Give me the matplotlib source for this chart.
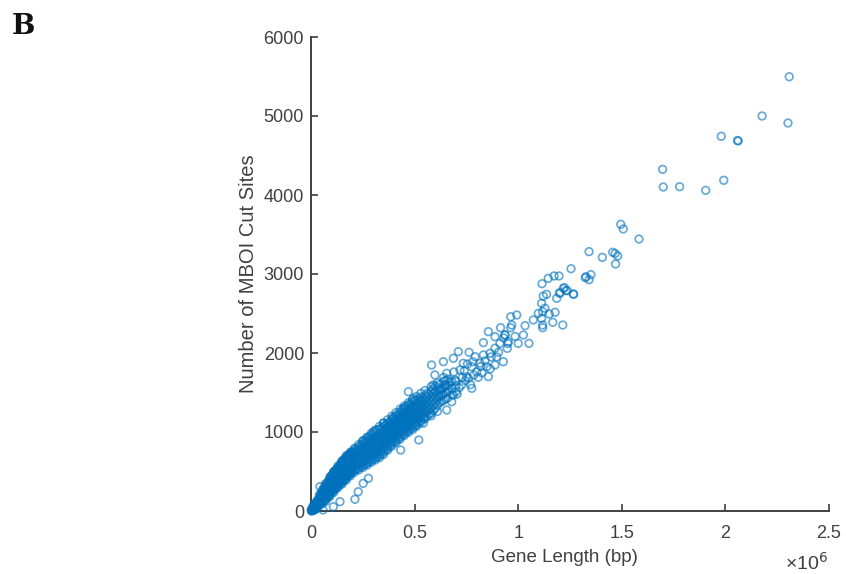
import numpy as np
import matplotlib
matplotlib.use('Agg')
import matplotlib.pyplot as plt

# sparse points, length in units of 1e6 bp
top_x = [2.308, 2.302, 2.177, 1.980, 2.062, 2.058, 1.992, 1.905, 1.779, 1.700, 1.697, 1.583,
         1.495, 1.507, 1.342, 1.406, 1.456, 1.468, 1.480, 1.470, 1.255, 1.351, 1.324, 1.342,
         1.197, 1.173, 1.145, 1.115, 1.223, 1.237, 1.199, 1.268, 1.137, 1.121, 1.186, 1.327]
top_y = [5497, 4911, 5000, 4743, 4684, 4690, 4186, 4059, 4105, 4101, 4325, 3443,
         3629, 3570, 3283, 3211, 3275, 3260, 3228, 3127, 3067, 2992, 2953, 2928,
         2975, 2975, 2945, 2877, 2827, 2790, 2763, 2743, 2743, 2720, 2692, 2966]

mid_x = [1.218, 1.230, 1.266, 1.202, 1.113, 1.129, 1.118, 1.178, 1.150, 1.097, 1.073, 1.113,
         1.167, 1.118, 1.118, 1.215, 0.993, 0.964, 0.969, 0.964, 1.033, 1.025, 0.936, 1.000,
         1.052, 0.952, 0.915, 0.930, 0.856, 0.936, 0.888, 0.832, 0.912, 0.947, 0.888, 0.864,
         0.928, 0.711, 0.763, 0.687, 0.639, 0.582, 0.598, 0.655, 0.735, 0.792, 0.832, 0.896,
         0.816, 0.776, 0.848, 0.807, 0.856, 0.888, 0.776, 0.687, 0.679, 0.751, 0.719, 0.695,
         0.647, 0.727, 0.590, 0.623, 0.663, 0.520, 0.433, 0.470, 0.494, 0.446, 0.397, 0.349,
         0.301, 0.655, 0.542, 0.043, 0.212, 0.228, 0.252, 0.277, 0.140, 0.108, 0.058,
         0.700, 0.715, 0.740, 0.760, 0.780, 0.800, 0.820, 0.840, 0.870, 0.905, 0.950, 0.985,
         0.705, 0.745, 0.770, 0.825, 0.865, 0.690, 0.730, 0.755, 0.785, 0.615, 0.640, 0.670]
mid_y = [2819, 2790, 2747, 2755, 2629, 2566, 2523, 2515, 2494, 2502, 2418, 2439,
         2389, 2354, 2320, 2354, 2481, 2459, 2354, 2320, 2346, 2228, 2228, 2122,
         2122, 2143, 2320, 2190, 2270, 2228, 2206, 2131, 2122, 2059, 2060, 1996,
         1890, 2017, 2008, 1933, 1890, 1848, 1722, 1743, 1870, 1953, 1975, 1950,
         1870, 1827, 1827, 1692, 1700, 1848, 1553, 1468, 1383, 1700, 1785, 1658,
         1595, 1595, 1595, 1532, 1532, 899, 772, 1510, 1427, 1300, 1173, 1110,
         1004, 1278, 1110, 308, 148, 244, 350, 414, 118, 54, 13,
         1640, 1560, 1770, 1680, 1890, 1760, 1830, 1900, 1950, 2010, 2120, 2210,
         1480, 1650, 1600, 1750, 1800, 1760, 1690, 1860, 1720, 1450, 1690, 1630]

# dense band, one list of cut site counts per gene length
band_x = [0.003, 0.008, 0.012, 0.018, 0.025, 0.032, 0.04, 0.05, 0.06, 0.07, 0.08, 0.09,
          0.10, 0.11, 0.12, 0.13, 0.14, 0.15, 0.16, 0.17, 0.18, 0.19, 0.20, 0.22, 0.24,
          0.26, 0.28, 0.30, 0.32, 0.34, 0.36, 0.38, 0.40, 0.42, 0.44, 0.46, 0.48, 0.50,
          0.52, 0.54, 0.56, 0.58, 0.60, 0.62, 0.64, 0.66]
band_y = [[5, 20], [10, 30], [15, 45, 70], [25, 60, 90], [35, 70, 110], [55, 95, 140],
          [70, 115, 160, 195], [110, 150, 190, 230], [125, 165, 205, 250, 285],
          [150, 190, 235, 280, 320], [175, 220, 265, 310, 365], [205, 250, 295, 340, 395],
          [240, 285, 330, 375, 420, 450], [265, 310, 355, 400, 445, 490],
          [290, 335, 380, 425, 470, 520], [320, 365, 410, 455, 500, 550],
          [345, 390, 435, 480, 525, 575], [365, 410, 455, 500, 545, 590, 620],
          [395, 440, 485, 530, 575, 620, 650], [420, 465, 510, 555, 600, 645, 680],
          [450, 495, 540, 585, 630, 675, 705], [470, 515, 560, 605, 650, 695, 725],
          [500, 545, 590, 635, 680, 725, 750], [530, 575, 620, 665, 710, 755, 790],
          [560, 605, 650, 695, 740, 785, 830], [590, 635, 680, 725, 770, 815, 860, 895],
          [620, 665, 710, 755, 800, 845, 890, 935], [655, 700, 745, 790, 835, 880, 925, 975],
          [685, 730, 775, 820, 865, 910, 955, 1025], [720, 765, 810, 855, 900, 945, 990, 1050],
          [770, 815, 860, 905, 950, 995, 1040, 1090], [820, 865, 910, 955, 1000, 1045, 1090, 1130],
          [870, 915, 960, 1005, 1050, 1095, 1140, 1185], [910, 955, 1000, 1045, 1090, 1135, 1180, 1225],
          [960, 1005, 1050, 1095, 1140, 1185, 1230, 1275], [1000, 1045, 1090, 1135, 1180, 1225, 1270, 1320],
          [1040, 1085, 1130, 1175, 1220, 1265, 1310, 1360], [1070, 1115, 1160, 1205, 1250, 1295, 1340, 1400],
          [1120, 1170, 1220, 1270, 1320, 1370, 1420], [1170, 1220, 1270, 1320, 1370, 1420],
          [1200, 1260, 1320, 1380, 1440, 1490], [1240, 1310, 1380, 1450, 1520],
          [1300, 1370, 1440, 1510, 1580], [1370, 1450, 1530, 1600], [1400, 1480, 1560, 1640],
          [1430, 1510, 1590, 1670]]

# genes falling between the rows above
fill_x = [0.002, 0.006, 0.015, 0.022, 0.03, 0.045, 0.055, 0.065, 0.075, 0.085, 0.095,
          0.105, 0.115, 0.125, 0.135, 0.145, 0.155, 0.165, 0.175, 0.185, 0.195,
          0.21, 0.23, 0.25, 0.27, 0.29, 0.31, 0.33, 0.35, 0.37, 0.39, 0.41, 0.43, 0.45,
          0.47, 0.49, 0.51, 0.53, 0.55, 0.57, 0.59, 0.61, 0.63, 0.65, 0.68, 0.70]
fill_y = [[0, 10], [5, 40], [10, 35, 80], [20, 50, 95], [40, 80, 125], [85, 130, 175, 215],
          [95, 135, 180, 220, 265], [135, 175, 220, 260, 300], [160, 205, 250, 295, 340],
          [190, 235, 280, 325, 375], [220, 265, 310, 355, 405, 435],
          [250, 295, 340, 385, 430, 470], [275, 320, 365, 410, 455, 505],
          [305, 350, 395, 440, 485, 530], [330, 375, 420, 465, 510, 560],
          [355, 400, 445, 490, 535, 580, 610], [380, 425, 470, 515, 560, 605, 640],
          [405, 450, 495, 540, 585, 630, 665], [435, 480, 525, 570, 615, 660, 695],
          [460, 505, 550, 595, 640, 685, 715], [485, 530, 575, 620, 665, 710, 740],
          [515, 560, 605, 650, 695, 740, 775], [545, 590, 635, 680, 725, 770, 810],
          [575, 620, 665, 710, 755, 800, 845, 880], [605, 650, 695, 740, 785, 830, 875, 920],
          [640, 685, 730, 775, 820, 865, 910, 955], [670, 715, 760, 805, 850, 895, 940, 1000],
          [700, 745, 790, 835, 880, 925, 970, 1035], [745, 790, 835, 880, 925, 970, 1015, 1070],
          [795, 840, 885, 930, 975, 1020, 1065, 1110], [845, 890, 935, 980, 1025, 1070, 1115, 1160],
          [890, 935, 980, 1025, 1070, 1115, 1160, 1205], [935, 980, 1025, 1070, 1115, 1160, 1205, 1250],
          [980, 1025, 1070, 1115, 1160, 1205, 1250, 1295], [1020, 1065, 1110, 1155, 1200, 1245, 1290, 1340],
          [1055, 1100, 1145, 1190, 1235, 1280, 1325, 1380], [1095, 1145, 1195, 1245, 1295, 1345, 1395],
          [1145, 1195, 1245, 1295, 1345, 1395, 1440], [1185, 1240, 1295, 1350, 1405, 1460],
          [1220, 1285, 1350, 1415, 1480], [1270, 1340, 1410, 1480, 1545], [1335, 1410, 1485, 1560],
          [1385, 1465, 1545], [1420, 1500, 1580, 1650], [1470, 1550, 1640], [1510, 1590]]

# upper and lower rim of the band
rim_x = [0.07, 0.09, 0.11, 0.13, 0.15, 0.17, 0.19, 0.21, 0.23, 0.25, 0.27, 0.29, 0.31, 0.33,
         0.35, 0.37, 0.39, 0.41, 0.43, 0.45, 0.47, 0.49, 0.51, 0.53, 0.55, 0.58, 0.61]
rim_up = [345, 425, 500, 570, 635, 700, 745, 795, 840, 890, 935, 980, 1025, 1070,
          1115, 1155, 1200, 1245, 1290, 1330, 1370, 1410, 1450, 1490, 1525, 1575, 1620]
rim_low = [120, 180, 235, 295, 340, 390, 445, 490, 520, 550, 580, 615, 645, 675,
           715, 770, 820, 865, 910, 955, 995, 1030, 1075, 1120, 1165, 1205, 1260]

x_ticks = [0, 0.5, 1, 1.5, 2, 2.5]
x_labels = ['0', '0.5', '1', '1.5', '2', '2.5']
y_ticks = [0, 1000, 2000, 3000, 4000, 5000, 6000]

plt.rcParams['font.family'] = ['Liberation Sans', 'DejaVu Sans']
grey = '#404040'

fig = plt.figure(figsize=(8.46, 5.74), dpi=100)
ax = fig.add_axes([311 / 846, 1 - 511 / 574, 518 / 846, 474 / 574])

xs = list(top_x) + list(mid_x) + list(rim_x) + list(rim_x)
ys = list(top_y) + list(mid_y) + list(rim_up) + list(rim_low)
for rx, ry in [(band_x, band_y), (fill_x, fill_y)]:
    xs += list(np.repeat(rx, [len(r) for r in ry]))
    ys += [v for r in ry for v in r]
ax.scatter(xs, ys, s=30, facecolors='none', edgecolors='#0072BD', linewidths=1.25,
           alpha=0.6, clip_on=False, zorder=3)

ax.set_xlim(0, 2.5)
ax.set_ylim(0, 6000)
ax.set_xticks(x_ticks)
ax.set_xticklabels(x_labels)
ax.set_yticks(y_ticks)
ax.spines['top'].set_visible(False)
ax.spines['right'].set_visible(False)
for s in ['left', 'bottom']:
    ax.spines[s].set_linewidth(1.4)
    ax.spines[s].set_color(grey)
ax.tick_params(direction='in', length=5, width=1.2, color=grey, labelcolor=grey,
               labelsize=13)
ax.tick_params(axis='x', pad=10)
ax.tick_params(axis='y', pad=5)

fig.text(564.5 / 846, 1 - 558 / 574, 'Gene Length (bp)', fontsize=13.5, color=grey,
         ha='center', va='center')
fig.text(248 / 846, 1 - 274 / 574, 'Number of MBOI Cut Sites', fontsize=14.5, color=grey,
         rotation=90, ha='center', va='center')
fig.text(785 / 846, 1 - 570 / 574, '\u00d710$^6$', fontsize=14, color=grey, va='baseline')
fig.text(12 / 846, 1 - 26 / 574, 'B', fontsize=20, fontweight='bold', color='#111111',
         family='DejaVu Serif', va='center')

fig.savefig('out.png', dpi=100)
